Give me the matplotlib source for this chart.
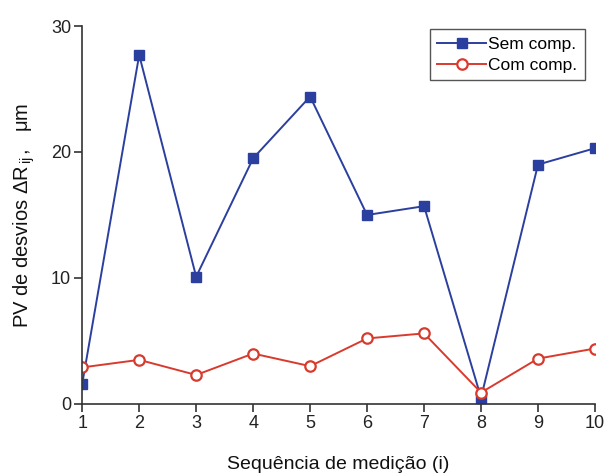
import matplotlib
matplotlib.use("Agg")
import matplotlib.pyplot as plt

plt.rcParams['font.family'] = ['Liberation Sans', 'DejaVu Sans']
plt.rcParams['mathtext.fontset'] = 'custom'
plt.rcParams['mathtext.rm'] = 'Liberation Sans'
plt.rcParams['mathtext.it'] = 'Liberation Sans:italic'

seq = [1, 2, 3, 4, 5, 6, 7, 8, 9, 10]
sem_comp = [1.6, 27.7, 10.1, 19.5, 24.4, 15.0, 15.7, 0.5, 19.0, 20.3]
com_comp = [2.9, 3.5, 2.3, 4.0, 3.0, 5.2, 5.6, 0.9, 3.6, 4.4]
y_ticks = [0, 10, 20, 30]

fig = plt.figure(figsize=(6.09, 4.73), dpi=100)
ax = fig.add_axes([0.135, 0.146, 0.842, 0.799])

blue = '#2b3f9e'
red = '#d93a2e'
ax.plot(seq, sem_comp, color=blue, lw=1.4, marker='s', ms=7.5,
        mfc=blue, mec=blue, label='Sem comp.')
ax.plot(seq, com_comp, color=red, lw=1.4, marker='o', ms=7.5,
        mfc='white', mec=red, mew=1.6, label='Com comp.')

ax.set_xlim(1, 10)
ax.set_ylim(0, 30)
ax.set_xticks(seq)
ax.set_yticks(y_ticks)
for s in ('top', 'right'):
    ax.spines[s].set_visible(False)
for s in ('left', 'bottom'):
    ax.spines[s].set_color('#333333')
    ax.spines[s].set_linewidth(1.2)
ax.tick_params(axis='both', direction='out', length=6, width=1.1,
               labelsize=13, colors='#222222', pad=2)

ax.set_xlabel('Sequência de medição (i)', fontsize=14, color='#111111', labelpad=17)
ax.set_ylabel(r'PV de desvios $\mathregular{\Delta R}_{\,\mathregular{ij}}$$\,$,   μm',
              fontsize=14.5, color='#111111', labelpad=10)

leg = ax.legend(loc='upper right', bbox_to_anchor=(0.99, 1.005), fontsize=12.5,
                fancybox=False, edgecolor='#555555', framealpha=1,
                handlelength=2.8, handletextpad=0.1, borderpad=0.45,
                labelspacing=0.3, borderaxespad=0.3)
leg.get_frame().set_linewidth(1.0)

fig.savefig('out.png', dpi=100)
